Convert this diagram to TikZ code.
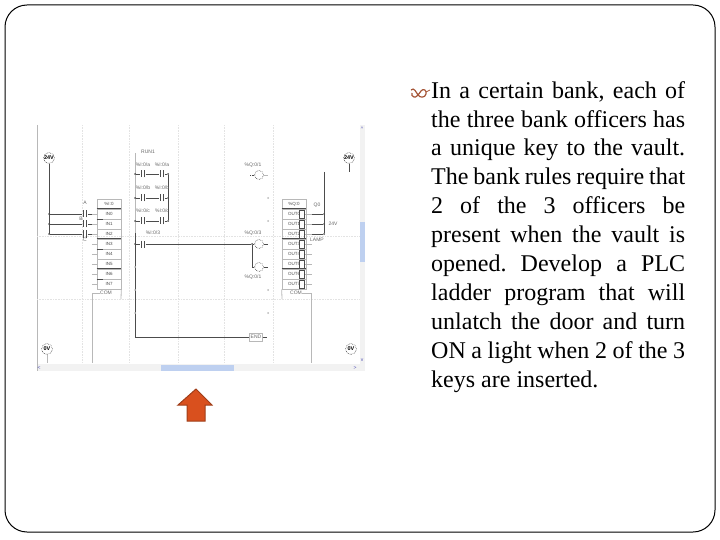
\documentclass[tikz,border=0pt]{standalone}
\usepackage{fontspec}
\setmainfont{Liberation Serif}
\newfontfamily\labelfont{Liberation Sans}
\definecolor{railgray}{gray}{0.72}
\definecolor{gridgray}{gray}{0.89}
\definecolor{darkrung}{gray}{0.3}
\definecolor{scrollblue}{RGB}{190,208,240}
\definecolor{arroworange}{RGB}{217,80,30}
\definecolor{arrowedge}{RGB}{160,62,25}
\definecolor{bulletbrown}{RGB}{165,85,55}
\tikzset{
  slide/.style={draw=black, line width=1pt, rounded corners=22pt},
  grid line/.style={gridgray, densely dotted, line width=0.6pt},
  rail/.style={railgray, line width=0.8pt},
  rung/.style={darkrung, line width=0.7pt},
  tag/.style={inner sep=0pt, font=\labelfont\fontsize{5}{5}\selectfont, text=black!60},
  row/.style={draw=railgray, minimum width=24pt, minimum height=10pt, inner sep=0pt, line width=0.6pt, font=\labelfont\fontsize{4.5}{5}\selectfont, text=black!70},
  outbox/.style={draw=darkrung, minimum width=5pt, minimum height=8pt, inner sep=0pt, line width=0.6pt},
  contact/.style={inner sep=0pt, minimum width=5pt, minimum height=7pt},
  coil/.style={circle, draw=darkrung, densely dotted, inner sep=0pt, minimum size=9pt, line width=0.6pt},
  supply/.style={circle, draw=darkrung, densely dotted, inner sep=0pt, minimum size=11pt, line width=0.6pt, font=\labelfont\bfseries\fontsize{5.5}{5.5}\selectfont},
  dot/.style={circle, fill=darkrung, inner sep=0pt, minimum size=2pt},
  scrollbar/.style={fill=black!5, draw=none},
  scrollthumb/.style={fill=scrollblue, draw=none}
}
\begin{document}
\begin{tikzpicture}[x=1pt, y=-1pt]
  \useasboundingbox (0,0) rectangle (720,540);
  \draw [slide] (5,5) rectangle (715,532);

  % paragraph
  \draw [bulletbrown, line width=1.2pt] (411,90) .. controls (414,87) and (416,92) .. (418,95) .. controls (420,98) and (425,98) .. (426,94) .. controls (427,90) and (423,88) .. (421,91) .. controls (419,94) and (416,98) .. (414,97) .. controls (412,96) and (411,95) .. (412,93);
  \draw [bulletbrown, line width=0.8pt] (426,92) -- (430,90);
  \node (body) [anchor=north west, inner sep=0pt, text width=254pt, align=justify, font=\fontsize{24}{28.95}\selectfont\frenchspacing] at (431,81) {%
    In a certain bank, each of\linebreak
    the three bank officers has\linebreak
    a unique key to the vault.\linebreak
    The bank rules require that\linebreak
    2 of the 3 officers be\linebreak
    present when the vault is\linebreak
    opened. Develop a PLC\linebreak
    ladder program that will\linebreak
    unlatch the door and turn\linebreak
    ON a light when 2 of the 3\linebreak
    keys are inserted.};

  % window
  \fill [scrollbar] (37,364) rectangle (365,371);
  \fill [scrollbar] (360,125) rectangle (365,364);
  \fill [scrollthumb] (161,365) rectangle (234,371);
  \fill [scrollthumb] (360,222) rectangle (365,262);
  \draw [rail] (37,125) -- (37,371);
  \foreach \gx in {82,129,178,224,273} \draw [grid line] (\gx,125) -- (\gx,363);
  \foreach \gy in {236,299} \draw [grid line] (37,\gy) -- (360,\gy);
  \node (leftmark) [tag, text=blue!40!gray] at (39,368) {<};
  \node (rightmark) [tag, text=blue!40!gray] at (355,368) {>};
  \node (upmark) [tag, text=blue!40!gray] at (362,129) {\^{}};
  \node (downmark) [tag, text=blue!40!gray] at (362,360) {v};

  % supplies
  \node (plusa) [supply] at (49,158) {24V};
  \node (plusb) [supply] at (349,158) {24V};
  \node (zeroa) [supply] at (47,349) {0V};
  \node (zerob) [supply] at (351,349) {0V};
  \coordinate (pa) at (49,234);
  \coordinate (pb) at (349,172);
  \coordinate (za) at (47,363);
  \draw [rung] (plusa) -- (pa);
  \draw [rung] (plusb) -- (pb);
  \draw [rail] (zeroa) -- (za);

  % input and output modules
  \node (intitle) [row] at (109,204) {\%I:0};
  \node (outtitle) [row] at (294,204) {\%Q:0};
  \foreach \i in {0,...,7} {
    \node (in\i) [row] at (109,214+10*\i) {IN\i};
    \node (out\i) [row] at (294,214+10*\i) {OUT\i\hspace{6pt}};
    \node (sq\i) [outbox] at (302,214+10*\i) {};
    \coordinate (ls\i) at (92,214+10*\i);
    \coordinate (rs\i) at (312,214+10*\i);
    \draw [rail] (ls\i) -- (in\i.west);
    \draw [rail] (sq\i.east) -- (rs\i);
  }
  \foreach \i in {0,3,6} {
    \draw [rung] (in\i.north west) -- (in\i.north east);
    \draw [rung] (out\i.north west) -- (out\i.north east);
    \draw [rung, line width=1pt] (in\i.south west) -- +(6,0);
  }
  \node (incom) [tag] at (106,293) {COM};
  \node (outcom) [tag] at (296,293) {COM};
  \coordinate (inb) at (92,363);
  \coordinate (outb) at (311,363);
  \coordinate (inc) at (92,293);
  \coordinate (outc) at (311,293);
  \draw [rail] (incom) -- (inc) -- (inb);
  \draw [rail] (outcom) -- (outc) -- (outb);
  \coordinate (inr) at (121,299);
  \coordinate (outl) at (282,299);
  \draw [rail] (in7.south east) -- (inr);
  \draw [rail] (out7.south west) -- (outl);

  % key switches
  \foreach \n/\k/\yy in {a/0/214,b/1/224,c/2/234} {
    \node (key\n) [contact] at (85,\yy) {};
    \node (junc\n) [dot] at (49,\yy) {};
    \draw [rung] (junc\n) -- (key\n);
    \draw [rung] (key\n) -- (ls\k);
  }
  \node (ta) [tag] at (85,203) {A};
  \node (tb) [tag] at (81,219) {B};
  \node (tc) [tag] at (85,240) {C};

  % ladder rungs
  \coordinate (railtop) at (135,153);
  \coordinate (railmid) at (135,233);
  \coordinate (railbot) at (135,337);
  \node (endbox) [tag, draw=railgray, minimum width=13pt, minimum height=8pt] at (256,337) {END};
  \coordinate (endr) at (267,337);
  \draw [rail] (railtop) -- (railmid);
  \draw [rung] (railmid) -- (railbot) -- (endbox) -- (endr);
  \foreach \n/\yy in {a/174,b/198,c/221} {
    \node (r\n) [dot] at (135,\yy) {};
    \node (cl\n) [contact] at (143,\yy) {};
    \node (cr\n) [contact] at (162,\yy) {};
    \node (e\n) [dot] at (168,\yy) {};
    \draw [rung] (r\n) -- (cl\n) -- (cr\n) -- (e\n);
  }
  \draw [rung] (ea) -- (ec);
  \node (rd) [dot] at (135,244) {};
  \node (cd) [contact] at (143,244) {};
  \node (split) [dot] at (252,244) {};
  \node (lamp) [coil] at (259,244) {};
  \node (door) [coil] at (259,267) {};
  \node (doortwo) [coil] at (259,175) {};
  \coordinate (lampr) at (268,244);
  \coordinate (doorr) at (268,267);
  \coordinate (doortwor) at (268,175);
  \coordinate (doortwol) at (250,175);
  \coordinate (splitb) at (252,267);
  \draw [rung] (rd) -- (cd) -- (split) -- (lamp) -- (lampr);
  \draw [rung] (split) -- (splitb) -- (door);
  \draw [rung] (door) -- (doorr);
  \draw [rail] (doortwo) -- (doortwor);
  \draw [rung, densely dotted] (doortwol) -- (doortwo);
  \foreach \c in {cla,cra,clb,crb,clc,crc,cd,keya,keyb,keyc}
    \draw [rung] (\c.center) ++(-1.3,-3.5) -- ++(0,7) ++(2.6,0) -- ++(0,-7);
  \foreach \m [count=\k] in {198,221,290,313}
    \node (rm\k) [dot, fill=railgray] at (268,\m) {};
  \foreach \m [count=\k] in {267,290,313}
    \node (lm\k) [dot, fill=railgray] at (135,\m) {};

  % rung tags
  \node (ltop) [tag] at (148,152) {RUN1};
  \foreach \n/\yy in {a/165,b/188,c/211} {
    \node (tl\n) [tag] at (143,\yy) {\%I:0/\n};
    \node (tr\n) [tag] at (162,\yy) {\%I:0/\n};
  }
  \node (td) [tag] at (153,233) {\%I:0/3};
  \node (tlamp) [tag] at (253,233) {\%Q:0/3};
  \node (tdoor) [tag] at (253,277) {\%Q:0/1};
  \node (tdoortwo) [tag] at (253,165) {\%Q:0/1};

  % output loads
  \coordinate (loadtop) at (324,172);
  \node (lda) [dot] at (324,214) {};
  \node (ldb) [dot] at (324,224) {};
  \node (ldc) [dot] at (324,234) {};
  \draw [rung] (loadtop) -- (ldc);
  \draw [rung] (rs0) -- (lda);
  \draw [rung] (rs1) -- (ldb);
  \draw [rung] (rs2) -- (ldc);
  \node (tqa) [tag] at (317,205) {Q0};
  \node (tqb) [tag] at (333,224) {24V};
  \node (tqc) [tag] at (317,240) {LAMP};

  % arrow under the window
  \draw [fill=arroworange, draw=arrowedge, line width=1pt] (196,389) -- (212,405) -- (205,405) -- (205,421) -- (187,421) -- (187,405) -- (178,405) -- cycle;
\end{tikzpicture}
\end{document}
